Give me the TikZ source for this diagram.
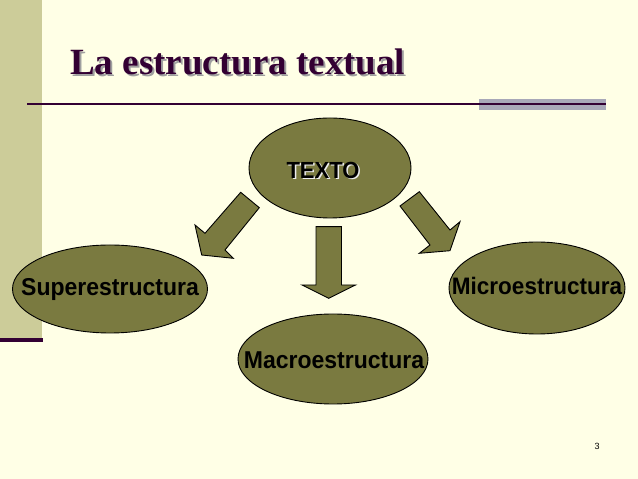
\documentclass[tikz,border=0pt]{standalone}
\usepackage{fontspec}
\setmainfont{Liberation Sans}
\newfontfamily\titlefont{Liberation Serif}
\usetikzlibrary{shapes.geometric}
\newcommand\shadowtxt[3]{\rlap{\kern#2\raisebox{-#2}{\color{#1}#3}}#3}
\tikzset{
  blob/.style={draw=black,line width=0.9bp,fill=olivefill,ellipse,inner sep=0pt},
  blockarrow/.style={draw=black,line width=0.9bp,fill=olivefill,line join=miter},
  lbl/.style={font=\bfseries\fontsize{23bp}{27bp}\selectfont,text=black,inner sep=0pt,anchor=base,yscale=1.06,transform shape}
}
\begin{document}
\begin{tikzpicture}
		%%
  \definecolor{olivefill}{RGB}{122,122,64}
  \definecolor{bgcol}{RGB}{255,255,230}
  \definecolor{stripcol}{RGB}{204,204,153}
  \definecolor{purplecol}{RGB}{51,0,51}
  \definecolor{barcol}{RGB}{168,168,184}
  \useasboundingbox (0bp,0bp) rectangle (638bp,479bp);
  \fill [bgcol] (0bp,0bp) rectangle (638bp,479bp);
  \fill [stripcol] (0bp,139bp) rectangle (42bp,479bp);
  \fill [purplecol] (0bp,137bp) rectangle (43bp,141bp);
  \fill [barcol] (479bp,369bp) rectangle (606bp,380bp);
  \draw [purplecol,line width=1.5bp] (27bp,375bp) -- (606bp,375bp);
  \node (Title) at (70bp,404bp) [anchor=base west,inner sep=0pt,text=purplecol,font=\titlefont\bfseries\fontsize{37bp}{44bp}\selectfont] {\shadowtxt{gray!75}{2bp}{La estructura textual}};
  \node (Texto) at (330bp,311bp) [blob,minimum width=162bp,minimum height=100bp] {};
  \node (Super) at (110bp,190bp) [blob,minimum width=195bp,minimum height=88bp] {};
  \node (Micro) at (537bp,191bp) [blob,minimum width=176bp,minimum height=92bp] {};
  \node (Macro) at (333bp,120bp) [blob,minimum width=190bp,minimum height=90bp] {};
  \draw [blockarrow] (240.7bp,286.7bp) -- (259.3bp,271.3bp) -- (225bp,229bp) -- (233.3bp,220.7bp) -- (201.7bp,224bp) -- (195bp,254bp) -- (205bp,245.7bp) -- cycle;
  \draw [blockarrow] (316bp,252.3bp) -- (341.5bp,252.3bp) -- (341.5bp,194bp) -- (355.5bp,194bp) -- (328.8bp,180.7bp) -- (302bp,194bp) -- (316bp,194bp) -- cycle;
  \draw [blockarrow] (419.3bp,287.3bp) -- (400bp,273bp) -- (430bp,234bp) -- (419.3bp,225.7bp) -- (450bp,228.3bp) -- (460bp,257.3bp) -- (450bp,249bp) -- cycle;
  \draw (323bp,300.7bp) node [lbl,font=\bfseries\fontsize{22bp}{27bp}\selectfont] {\shadowtxt{white!85!gray}{1.5bp}{TEXTO}};
  \draw (110bp,183.3bp) node [lbl] {Superestructura};
  \draw (537bp,184.5bp) node [lbl,font=\bfseries\fontsize{22.5bp}{27bp}\selectfont] {Microestructura};
  \draw (334bp,110.2bp) node [lbl] {Macroestructura};
  \draw (597bp,33bp) node [font=\fontsize{9bp}{11bp}\selectfont] {3};
		%
	\end{tikzpicture}
\end{document}
